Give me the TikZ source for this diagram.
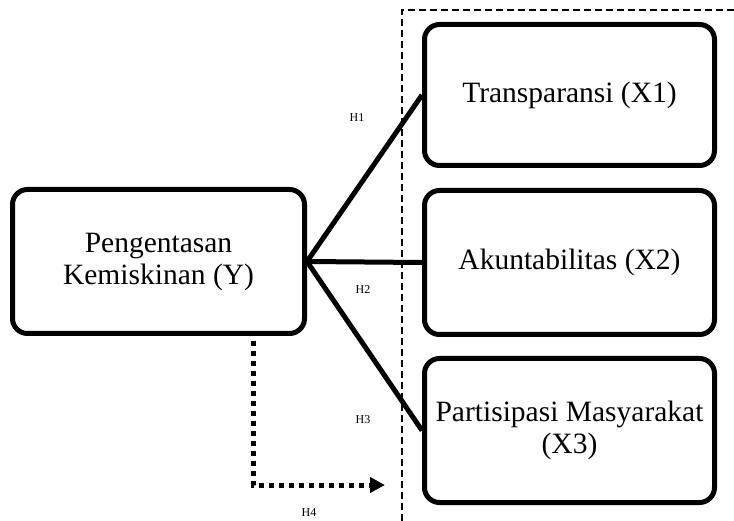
\documentclass[tikz,border=0pt]{standalone}
\usepackage{fontspec}
\setmainfont{Liberation Serif}
\usetikzlibrary{arrows.meta}
\begin{document}
\begin{tikzpicture}[x=1pt,y=-1pt,
  varbox/.style={draw=black,line width=5pt,rounded corners=15pt,fill=white,
    minimum width=290pt,align=center,inner sep=0pt,
    font=\fontsize{29.5}{32}\selectfont},
  link/.style={line width=5pt},
  hlabel/.style={font=\fontsize{12}{14}\selectfont,inner sep=0pt},
  frame/.style={line width=1.5pt,dash pattern=on 7pt off 4pt},
  dotpath/.style={line width=5pt,dash pattern=on 5pt off 5pt,
    -{Triangle[length=15pt,width=15pt]}}]
\useasboundingbox (0,0) rectangle (734,521);
\fill[white] (0,0) rectangle (734,521);
% dashed frame
\coordinate (fa) at (402,521);
\coordinate (fb) at (402,10);
\coordinate (fc) at (734,10);
\draw[frame] (fa) -- (fb) -- (fc);
% boxes
\node[varbox,minimum width=292pt,minimum height=144pt] (Y) at (158.5,261.5) {Pengentasan\\Kemiskinan (Y)};
\node[varbox,minimum height=141pt] (X1) at (569.5,95) {Transparansi (X1)};
\node[varbox,minimum height=144pt] (X2) at (569.5,262.5) {Akuntabilitas (X2)};
\node[varbox,minimum height=144pt] (X3) at (569.5,430.5) {Partisipasi Masyarakat\\(X3)};
% connectors
\draw[link] (Y.east) -- (X1.west);
\draw[link] (Y.east) -- (X2.west);
\draw[link] (Y.east) -- (X3.west);
% dotted path
\coordinate (d0) at (120,334);
\coordinate (d1) at (253,334);
\coordinate (d2) at (253,485);
\coordinate (d3) at (385,485);
\draw[dotpath] (d0) -- (d1) -- (d2) -- (d3);
% labels
\node[hlabel] (h1) at (357,118) {H1};
\node[hlabel] (h2) at (363,290) {H2};
\node[hlabel] (h3) at (363,420) {H3};
\node[hlabel] (h4) at (309,513) {H4};
\end{tikzpicture}
\end{document}
